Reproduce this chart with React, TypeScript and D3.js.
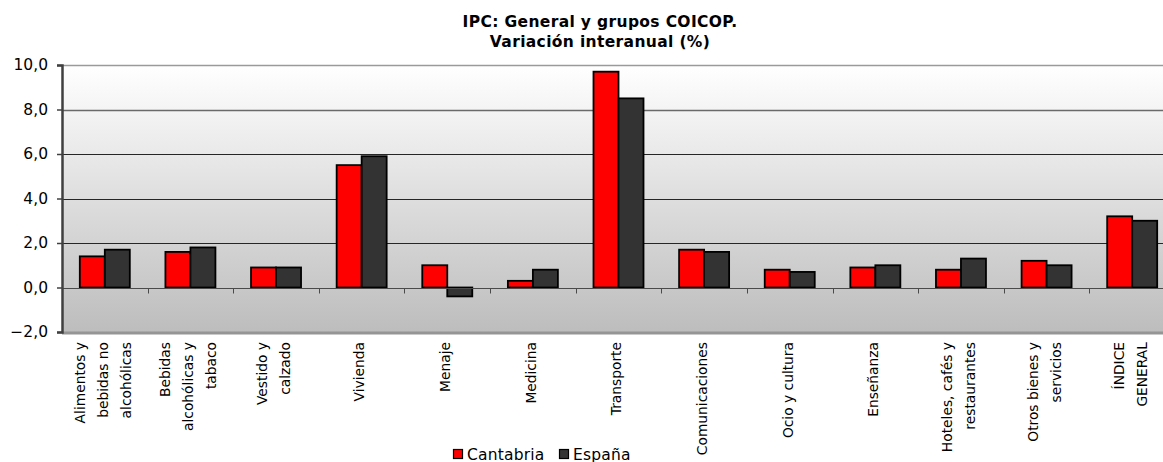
import * as d3 from "d3";
import { useEffect, useRef } from "react";

const categories = [
  "Alimentos y\nbebidas no\nalcohólicas",
  "Bebidas\nalcohólicas y\ntabaco",
  "Vestido y\ncalzado",
  "Vivienda",
  "Menaje",
  "Medicina",
  "Transporte",
  "Comunicaciones",
  "Ocio y cultura",
  "Enseñanza",
  "Hoteles, cafés y\nrestaurantes",
  "Otros bienes y\nservicios",
  "ÍNDICE\nGENERAL",
];
const cantabria = [1.4, 1.6, 0.9, 5.5, 1.0, 0.3, 9.7, 1.7, 0.8, 0.9, 0.8, 1.2, 3.2];
const espana = [1.7, 1.8, 0.9, 5.9, -0.4, 0.8, 8.5, 1.6, 0.7, 1.0, 1.3, 1.0, 3.0];
const seriesNames = ["Cantabria", "España"];
const seriesColors = ["#ff0000", "#333333"];
const yTicks = [-2, 0, 2, 4, 6, 8, 10];
const titleLines = ["IPC: General y grupos COICOP.", "Variación interanual (%)"];

const width = 1163;
const height = 462;
const plot = { left: 62, right: 1175, top: 65, bottom: 332 };
const font = "'DejaVu Sans', Verdana, sans-serif";

export default function App() {
  const svgRef = useRef<SVGSVGElement | null>(null);

  useEffect(() => {
    if (!svgRef.current) return;
    const svg = d3.select(svgRef.current);
    svg.selectAll("*").remove();

    const x = d3.scaleBand<number>().domain(d3.range(categories.length)).range([plot.left, plot.right]);
    const y = d3.scaleLinear().domain([-2, 10]).range([plot.bottom, plot.top]);
    const barW = 25;
    const sub = d3
      .scaleBand<number>()
      .domain([0, 1])
      .range([(x.bandwidth() - 2 * barW) / 2, (x.bandwidth() + 2 * barW) / 2]);

    const defs = svg.append("defs");
    const grad = defs
      .append("linearGradient")
      .attr("id", "bg")
      .attr("x1", 0)
      .attr("y1", 0)
      .attr("x2", 0)
      .attr("y2", 1);
    grad.append("stop").attr("offset", "0%").attr("stop-color", "#ffffff");
    grad.append("stop").attr("offset", "100%").attr("stop-color", "#bdbdbd");

    svg
      .append("rect")
      .attr("x", plot.left)
      .attr("y", plot.top)
      .attr("width", plot.right - plot.left)
      .attr("height", plot.bottom - plot.top)
      .attr("fill", "url(#bg)");

    // gridlines
    svg
      .append("g")
      .selectAll("line")
      .data(yTicks.filter((t) => t !== 0 && t !== -2))
      .join("line")
      .attr("x1", plot.left)
      .attr("x2", plot.right)
      .attr("y1", (t) => Math.round(y(t)) + 0.5)
      .attr("y2", (t) => Math.round(y(t)) + 0.5)
      .attr("stroke", (t) => (t === 10 ? "#9a9a9a" : t === 8 ? "#6a6a6a" : "#262626"))
      .attr("stroke-width", (t) => (t >= 8 ? 1.6 : 1));

    // bars
    const series = [cantabria, espana];
    series.forEach((vals, si) => {
      svg
        .append("g")
        .selectAll("rect")
        .data(vals)
        .join("rect")
        .attr("x", (_v, i) => (x(i) ?? 0) + (sub(si) ?? 0))
        .attr("y", (v) => y(Math.max(0, v)))
        .attr("width", sub.bandwidth())
        .attr("height", (v) => Math.abs(y(v) - y(0)))
        .attr("fill", seriesColors[si])
        .attr("stroke", "#000")
        .attr("stroke-width", 1.8);
    });

    // zero line with category ticks
    const y0 = Math.round(y(0)) + 0.5;
    svg
      .append("line")
      .attr("x1", plot.left)
      .attr("x2", plot.right)
      .attr("y1", y0)
      .attr("y2", y0)
      .attr("stroke", "#4a4a4a")
      .attr("stroke-width", 1);
    svg
      .append("g")
      .selectAll("line")
      .data(d3.range(1, categories.length))
      .join("line")
      .attr("x1", (i) => Math.round(x(i) ?? 0) + 0.5)
      .attr("x2", (i) => Math.round(x(i) ?? 0) + 0.5)
      .attr("y1", y0)
      .attr("y2", y0 + 5)
      .attr("stroke", "#4a4a4a");

    // bottom border
    svg
      .append("line")
      .attr("x1", plot.left)
      .attr("x2", plot.right)
      .attr("y1", plot.bottom + 1)
      .attr("y2", plot.bottom + 1)
      .attr("stroke", "#959595")
      .attr("stroke-width", 3);

    // y axis
    const yAxis = svg
      .append("g")
      .attr("transform", `translate(${plot.left},0)`)
      .call(
        d3
          .axisLeft(y)
          .tickValues(yTicks)
          .tickSize(5)
          .tickPadding(9)
          .tickFormat((d) => d3.format(".1f")(d as number).replace(".", ","))
      );
    yAxis.select(".domain").attr("stroke", "#404040").attr("stroke-width", 2.5);
    yAxis.selectAll(".tick line").attr("stroke", "#404040").attr("stroke-width", 1.5);
    yAxis
      .selectAll(".tick text")
      .attr("font-family", font)
      .attr("font-size", 15.5)
      .attr("fill", "#000");

    // x labels
    const lineH = 23;
    const labels = svg
      .append("g")
      .selectAll("text")
      .data(categories)
      .join("text")
      .attr("transform", (_c, i) => `translate(${(x(i) ?? 0) + x.bandwidth() / 2 - 2},342) rotate(-90)`)
      .attr("text-anchor", "end")
      .attr("font-family", font)
      .attr("font-size", 13.8)
      .attr("fill", "#000");
    labels.each(function (c) {
      const lines = c.split("\n");
      const t = d3.select(this);
      lines.forEach((ln, li) => {
        t.append("tspan")
          .attr("x", 0)
          .attr("y", (li - (lines.length - 1) / 2) * lineH)
          .attr("dy", "0.35em")
          .text(ln);
      });
    });

    // title
    svg
      .append("g")
      .selectAll("text")
      .data(titleLines)
      .join("text")
      .attr("x", 600)
      .attr("y", (_t, i) => 27 + i * 20)
      .attr("text-anchor", "middle")
      .attr("font-family", font)
      .attr("font-weight", "bold")
      .attr("font-size", 15.5)
      .attr("letter-spacing", 0.35)
      .attr("fill", "#000")
      .text((t) => t);

    // legend
    const legendX = [453, 559];
    const lg = svg
      .append("g")
      .selectAll("g")
      .data(seriesNames)
      .join("g")
      .attr("transform", (_s, i) => `translate(${legendX[i]},449)`);
    lg.append("rect")
      .attr("x", 0.5)
      .attr("y", 0.5)
      .attr("width", 9)
      .attr("height", 9)
      .attr("fill", (_s, i) => seriesColors[i])
      .attr("stroke", "#000")
      .attr("stroke-width", 1.2);
    lg.append("text")
      .attr("x", 14)
      .attr("y", 10.5)
      .attr("font-family", font)
      .attr("font-size", 15.5)
      .attr("letter-spacing", 0.2)
      .attr("fill", "#000")
      .text((s) => s);
  }, []);

  return (
    <svg
      ref={svgRef}
      width={width}
      height={height}
      style={{ position: "absolute", left: 0, top: 0, background: "#fff" }}
    />
  );
}
